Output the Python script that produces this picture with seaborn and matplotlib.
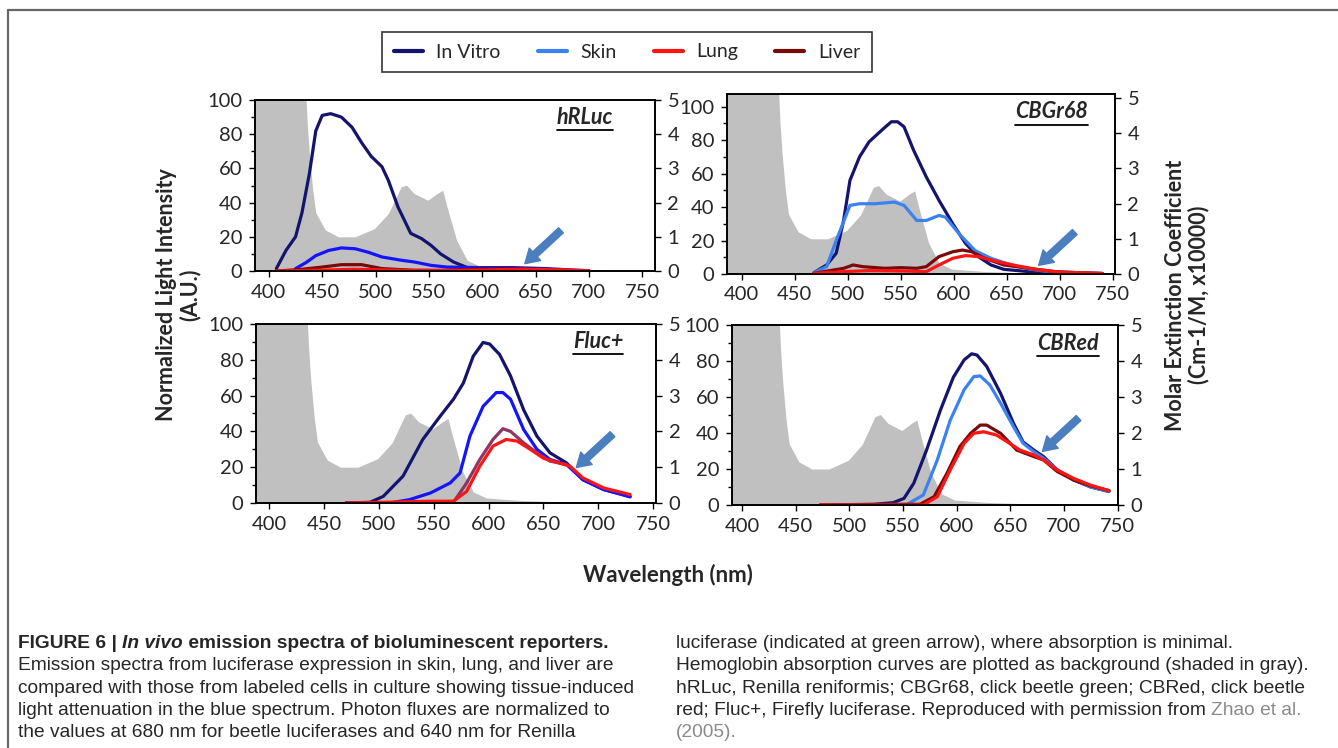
import numpy as np
import pandas as pd
import matplotlib
matplotlib.use('Agg')
import matplotlib.pyplot as plt
from matplotlib.lines import Line2D
from matplotlib.text import Annotation
from matplotlib import font_manager
import seaborn as sns

# hemoglobin absorption, right axis (x10000)
HB_NM = [386, 430, 434, 436, 438, 441, 444, 453, 465, 481, 499, 512, 524, 529, 536, 549, 558, 563, 567, 576, 586, 598, 629, 660, 700, 765]
HB_ABS = [9, 9, 5.6, 4.3, 3.4, 2.4, 1.7, 1.2, 1.0, 1.0, 1.24, 1.68, 2.46, 2.51, 2.27, 2.07, 2.27, 2.36, 1.88, 0.9, 0.31, 0.14, 0.07, 0.04, 0.02, 0.0]

# hRLuc
HRLUC_VITRO_NM = [407, 416, 425, 431, 438, 444, 450, 458, 468, 478, 487, 496, 506, 512, 521, 533, 543, 552, 561, 573, 586, 598, 620, 650, 700]
HRLUC_VITRO = [1.4, 12, 20, 34, 57, 82, 91, 92, 90, 84, 75, 67, 61, 53, 37.5, 22, 19, 15, 10, 5.3, 2, 1, 0.6, 0.4, 0]
HRLUC_SKIN_NM = [425, 435, 444, 456, 468, 481, 493, 506, 524, 536, 552, 567, 598, 629, 660, 690, 700]
HRLUC_SKIN = [1.4, 5, 9, 12, 13.5, 13, 11, 8.2, 6.3, 5.3, 3.3, 2.3, 2, 2, 1.4, 0.4, 0.2]
HRLUC_LIVER_NM = [407, 428, 450, 468, 487, 506, 536, 567, 598, 629, 660, 690, 700]
HRLUC_LIVER = [0, 0.8, 2.3, 3.7, 3.7, 1.4, 0.4, 0.4, 1.2, 1.4, 1.0, 0.2, 0]
HRLUC_LUNG_NM = [407, 450, 480, 520, 560, 600, 640, 680, 700]
HRLUC_LUNG = [0, 0.5, 1.0, 0.5, 0.2, 0.6, 1.0, 0.6, 0.2]

# CBGr68
CBGR_VITRO_NM = [468, 480, 489, 496, 502, 511, 520, 532, 541, 547, 553, 562, 574, 586, 599, 611, 623, 635, 647, 671, 702, 740]
CBGR_VITRO = [0.8, 5.4, 12.4, 32, 56, 70, 79, 86, 91, 91, 88, 74, 58, 44, 30, 18.3, 10.4, 5.4, 2.8, 1.4, 0.4, 0.2]
CBGR_SKIN_NM = [468, 480, 489, 502, 511, 526, 544, 553, 565, 574, 586, 592, 605, 620, 635, 656, 671, 689, 717, 740]
CBGR_SKIN = [0.8, 4.4, 20, 41, 42, 42, 43, 41, 32, 32, 35, 34, 24, 14, 9.4, 5, 3, 1.4, 0.8, 0.4]
CBGR_LIVER_NM = [468, 496, 505, 514, 535, 550, 565, 574, 586, 599, 608, 617, 629, 647, 671, 695, 717, 740]
CBGR_LIVER = [0.4, 3.4, 5.4, 4.4, 3.4, 3.8, 3.4, 4.4, 10.4, 13.3, 14.3, 13.3, 9.4, 5.4, 3.4, 1.4, 0.8, 0.3]
CBGR_LUNG_NM = [468, 496, 520, 550, 574, 586, 599, 611, 623, 641, 659, 677, 702, 717, 740]
CBGR_LUNG = [0.4, 1.4, 2, 1.8, 1.4, 5.4, 9.4, 11, 10.4, 7.4, 5, 2.8, 1, 0.8, 0.3]

# Fluc+
FLUC_VITRO_NM = [470, 492, 504, 522, 540, 556, 568, 577, 586, 595, 601, 610, 620, 632, 644, 656, 671, 686, 705, 729]
FLUC_VITRO = [0, 0.4, 3.7, 15, 35.5, 48.6, 58, 67, 82, 89.7, 88.8, 83, 71, 52, 37.4, 28, 22.4, 13, 7.5, 3.7]
FLUC_SKIN_NM = [470, 510, 528, 547, 565, 574, 583, 595, 607, 613, 620, 632, 644, 656, 671, 686, 705, 729]
FLUC_SKIN = [0, 0, 1.9, 5.6, 11.2, 16.8, 37.4, 54, 61.7, 61.7, 58, 41, 30, 24.3, 21.5, 13, 7.5, 3.4]
FLUC_LIVER_NM = [568, 580, 592, 604, 613, 620, 632, 644, 656, 671]
FLUC_LIVER = [0.4, 11.2, 24.3, 35.5, 41.5, 40, 33.6, 28, 23.4, 21.5]
FLUC_LUNG_NM = [470, 504, 550, 568, 580, 592, 604, 616, 626, 638, 650, 662, 674, 686, 705, 729]
FLUC_LUNG = [0, 0.4, 1, 1, 6.5, 20.6, 31.8, 35.5, 34.6, 30, 25, 22.8, 20.6, 14, 8.4, 4.7]

# CBRed
CBRED_VITRO_NM = [473, 523, 541, 551, 560, 572, 585, 597, 607, 614, 619, 628, 641, 653, 662, 672, 681, 694, 709, 725, 742]
CBRED_VITRO = [0, 0.4, 1.3, 3.7, 12, 30.5, 52.8, 71, 80.6, 84, 83.3, 77, 62, 45.4, 35, 30.5, 26.9, 19.4, 13.9, 10, 7.5]
CBRED_SKIN_NM = [473, 554, 569, 582, 594, 607, 616, 622, 631, 641, 653, 662, 672, 681, 694, 709, 725, 742]
CBRED_SKIN = [0, 0.4, 5.6, 25, 47, 64, 71.3, 71.7, 66.7, 56.5, 43.5, 34.3, 29.6, 26, 19.4, 14.3, 10, 7.5]
CBRED_LIVER_NM = [473, 566, 579, 591, 603, 613, 622, 628, 641, 656, 672, 681, 694, 709, 725, 742]
CBRED_LIVER = [0, 0.4, 4.6, 17.6, 32.4, 39.8, 44.4, 44.4, 39.8, 30.5, 26.9, 25, 18.5, 13.9, 10.6, 8]
CBRED_LUNG_NM = [473, 569, 582, 594, 607, 616, 625, 637, 647, 659, 672, 681, 694, 709, 725, 742]
CBRED_LUNG = [0, 0, 4.6, 19.4, 34.3, 39.8, 40.7, 38.9, 35.2, 30.5, 27.8, 25, 19.4, 14.8, 11, 8]

REPORTERS = ['hRLuc', 'CBGr68', 'Fluc+', 'CBRed']
ARROW_NM = [640, 680, 680, 680]
LEGEND_ORDER = ['In Vitro', 'Skin', 'Lung', 'Liver']
DRAW_ORDER = ['In Vitro', 'Skin', 'Liver', 'Lung']

NAVY = '#14146e'
SKIN_LIGHT = '#3b82f0'
SKIN_DEEP = '#1414ff'
RED = '#ff1414'
DARK_RED = '#780a0a'
GRAY = '#c0c0c0'
ARROW = '#4a7ebf'


def pick_font(names):
    for n in names:
        try:
            font_manager.findfont(font_manager.FontProperties(family=n), fallback_to_default=False)
            return n
        except ValueError:
            pass
    return 'DejaVu Sans'


sns.set_style('ticks')
main_font = pick_font(['Lato', 'Open Sans'])
cap_font = pick_font(['Liberation Sans Narrow', 'Liberation Sans'])
plt.rcParams['font.family'] = [main_font, 'DejaVu Sans']

W, H = 1338, 748
fig = plt.figure(figsize=(W / 100, H / 100), dpi=100)


def rect(l, t, r, b):
    return [l / W, 1 - b / H, (r - l) / W, (b - t) / H]


panels = [
    dict(series={'In Vitro': (HRLUC_VITRO_NM, HRLUC_VITRO), 'Skin': (HRLUC_SKIN_NM, HRLUC_SKIN),
                 'Liver': (HRLUC_LIVER_NM, HRLUC_LIVER), 'Lung': (HRLUC_LUNG_NM, HRLUC_LUNG)},
         skin=SKIN_DEEP, liver=DARK_RED, box=(255, 100, 655, 271), xlim=(387, 762), ytop=100, rtop=5,
         title_x=0.895),
    dict(series={'In Vitro': (CBGR_VITRO_NM, CBGR_VITRO), 'Skin': (CBGR_SKIN_NM, CBGR_SKIN),
                 'Liver': (CBGR_LIVER_NM, CBGR_LIVER), 'Lung': (CBGR_LUNG_NM, CBGR_LUNG)},
         skin=SKIN_LIGHT, liver=DARK_RED, box=(727, 94, 1115, 274), xlim=(386, 752), ytop=107.6, rtop=5.11,
         title_x=0.93),
    dict(series={'In Vitro': (FLUC_VITRO_NM, FLUC_VITRO), 'Skin': (FLUC_SKIN_NM, FLUC_SKIN),
                 'Liver': (FLUC_LIVER_NM, FLUC_LIVER), 'Lung': (FLUC_LUNG_NM, FLUC_LUNG)},
         skin=SKIN_DEEP, liver='#8c3566', box=(256, 324, 656, 503), xlim=(388, 752.6), ytop=100, rtop=5,
         title_x=0.918),
    dict(series={'In Vitro': (CBRED_VITRO_NM, CBRED_VITRO), 'Skin': (CBRED_SKIN_NM, CBRED_SKIN),
                 'Liver': (CBRED_LIVER_NM, CBRED_LIVER), 'Lung': (CBRED_LUNG_NM, CBRED_LUNG)},
         skin=SKIN_LIGHT, liver=DARK_RED, box=(732, 325, 1118, 505), xlim=(390.7, 750.4), ytop=100, rtop=5,
         title_x=0.95),
]

titles = []
for name, p, arrow_nm in zip(REPORTERS, panels, ARROW_NM):
    ax = fig.add_axes(rect(*p['box']))
    ax2 = ax.twinx()
    # gray hemoglobin background on the right scale, kept behind the curves
    ax2.fill_between(HB_NM, HB_ABS, color=GRAY, lw=0)
    ax2.set_ylim(0, p['rtop'])
    ax2.set_yticks(range(0, 6))
    ax.set_zorder(ax2.get_zorder() + 1)
    ax.patch.set_visible(False)

    df = pd.concat([pd.DataFrame({'nm': nm, 'value': v, 'tissue': t})
                    for t, (nm, v) in p['series'].items()], ignore_index=True)
    pal = {'In Vitro': NAVY, 'Skin': p['skin'], 'Lung': RED, 'Liver': p['liver']}
    sns.lineplot(data=df, x='nm', y='value', hue='tissue', hue_order=DRAW_ORDER, palette=pal,
                 estimator=None, sort=False, lw=2.3, legend=False, ax=ax)

    ax.set_xlim(*p['xlim'])
    ax.set_ylim(0, p['ytop'])
    ax.set_xticks(range(400, 751, 50))
    ax.set_yticks(range(0, 101, 20))
    ax.set_yticks(range(10, 100, 20), minor=True)
    ax.set_xlabel('')
    ax.set_ylabel('')
    for a in (ax, ax2):
        a.tick_params(labelsize=14.5, length=4, width=1, color='black', pad=5)
        a.tick_params(which='minor', length=3, width=1, color='black')
        for s in a.spines.values():
            s.set_visible(True)
            s.set_color('black')
            s.set_linewidth(1.2)

    # arrow at the normalization wavelength
    tip = max(np.interp(arrow_nm, nm, v, left=0, right=0) for nm, v in p['series'].values())
    ax.annotate('', xy=(arrow_nm, tip + 2.5), xytext=(26, 24), textcoords='offset points',
                arrowprops=dict(arrowstyle='simple,head_width=1.1,head_length=0.9,tail_width=0.45',
                                color=ARROW, mutation_scale=11, shrinkA=0, shrinkB=0))

    t = ax.text(p['title_x'], 0.9, name, transform=ax.transAxes, ha='right', va='center',
                fontsize=15.5, fontweight='bold', style='italic')
    titles.append(t)

# legend across the top
handles = [Line2D([], [], color=c, lw=3) for c in (NAVY, SKIN_LIGHT, RED, DARK_RED)]
leg = fig.legend(handles, LEGEND_ORDER, ncol=4, loc='center', bbox_to_anchor=(627 / W, 1 - 52 / H),
                 frameon=True, fancybox=False, edgecolor='black', fontsize=14, handlelength=1.5,
                 columnspacing=1.9, borderpad=0.6, handletextpad=0.7, borderaxespad=0)
leg.get_frame().set_linewidth(1.2)

fig.text(178 / W, 1 - 295 / H, 'Normalized Light Intensity\n(A.U.)', rotation=90, ha='center', va='center',
         fontsize=15.5, fontweight='bold', linespacing=1.1)
fig.text(1187 / W, 1 - 295 / H, 'Molar Extinction Coefficient\n(Cm-1/M, x10000)', rotation=90, ha='center',
         va='center', fontsize=15.5, fontweight='bold', linespacing=1.1)
fig.text(668 / W, 1 - 575 / H, 'Wavelength (nm)', ha='center', va='center', fontsize=16, fontweight='bold')

# caption
cap = dict(fontsize=13.8, family=[cap_font, 'DejaVu Sans'], va='bottom', color='#262626')
rows = [652, 674, 697, 719, 741]


def cap_text(x, y, s, **kw):
    return fig.text(x / W, 1 - y / H, s, **{**cap, **kw})


def cap_after(prev, s, **kw):
    return fig.add_artist(Annotation(s, xy=(1, 0), xycoords=prev, **{**cap, **kw}))


t1 = cap_text(18, rows[0], 'FIGURE 6 | ', fontweight='bold')
t2 = cap_after(t1, 'In vivo', fontweight='bold', style='italic')
cap_after(t2, ' emission spectra of bioluminescent reporters.', fontweight='bold')
left_lines = ['Emission spectra from luciferase expression in skin, lung, and liver are',
              'compared with those from labeled cells in culture showing tissue-induced',
              'light attenuation in the blue spectrum. Photon fluxes are normalized to',
              'the values at 680 nm for beetle luciferases and 640 nm for Renilla']
for y, s in zip(rows[1:], left_lines):
    cap_text(18, y, s)
right_lines = ['luciferase (indicated at green arrow), where absorption is minimal.',
               'Hemoglobin absorption curves are plotted as background (shaded in gray).',
               'hRLuc, Renilla reniformis; CBGr68, click beetle green; CBRed, click beetle']
for y, s in zip(rows[:3], right_lines):
    cap_text(676, y, s)
t3 = cap_text(676, rows[3], 'red; Fluc+, Firefly luciferase. Reproduced with permission from ')
cap_after(t3, 'Zhao et al.', color='#8a8a8a')
cap_text(676, rows[4], '(2005).', color='#8a8a8a')

# page frame lines
fig.add_artist(Line2D([8 / W, 1], [1 - 10 / H, 1 - 10 / H], color='#666666', lw=1.6))
fig.add_artist(Line2D([8 / W, 8 / W], [0, 1 - 10 / H], color='#666666', lw=1.6))

# underline the reporter names
fig.canvas.draw()
inv = fig.transFigure.inverted()
for t in titles:
    bb = t.get_window_extent()
    (x0, y0), (x1, _) = inv.transform([(bb.x0, bb.y0 - 2), (bb.x1, bb.y1)])
    fig.add_artist(Line2D([x0, x1], [y0, y0], color='black', lw=1.3))

fig.savefig('out.png', dpi=100)
